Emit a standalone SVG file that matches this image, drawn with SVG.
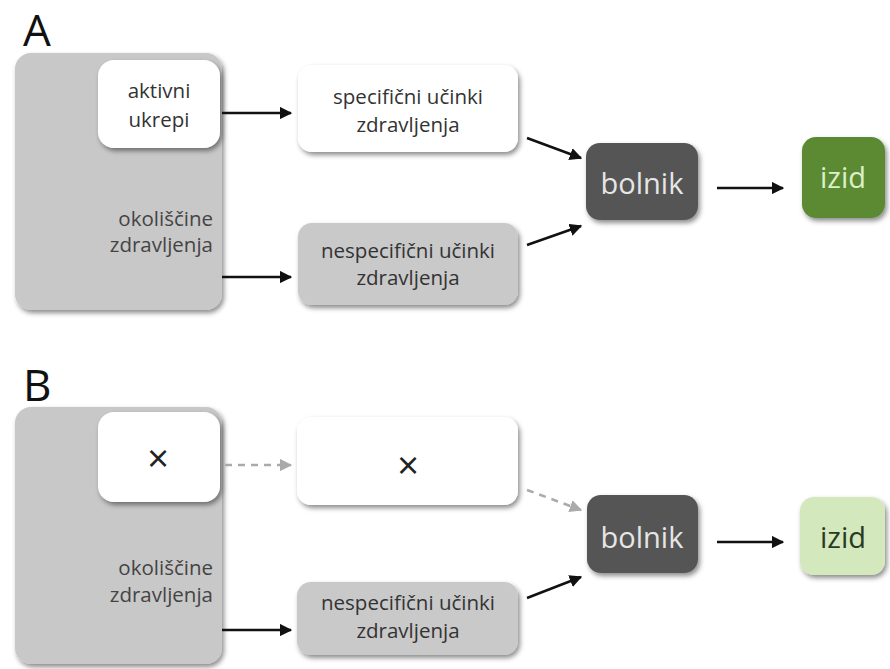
<svg xmlns="http://www.w3.org/2000/svg" width="890" height="669" viewBox="0 0 890 669">
<defs>
<filter id="sh" x="-20%" y="-20%" width="140%" height="150%">
<feDropShadow dx="2" dy="3" stdDeviation="2.5" flood-color="#000" flood-opacity="0.45"/>
</filter>
<marker id="ah" viewBox="0 0 10 10" refX="9" refY="5" markerWidth="5" markerHeight="5" orient="auto" markerUnits="strokeWidth">
<path d="M0,0 L10,5 L0,10 Z" fill="#111"/>
</marker>
<marker id="ahg" viewBox="0 0 10 10" refX="9" refY="5" markerWidth="5" markerHeight="5" orient="auto" markerUnits="strokeWidth">
<path d="M0,0 L10,5 L0,10 Z" fill="#aaa"/>
</marker>
<style>
text{font-family:"Open Sans","DejaVu Sans",sans-serif}
.env{fill:#c8c8c8;filter:url(#sh)}
.wb{fill:#fff;filter:url(#sh)}
.gb{fill:#c9c9c9;filter:url(#sh)}
.db{fill:#555;filter:url(#sh)}
.t{font-size:20.5px;fill:#333;text-anchor:middle}
.tr{font-size:20.5px;fill:#444;text-anchor:end}
.big{font-size:29px;text-anchor:middle}
.x{font-size:38px;fill:#222;text-anchor:middle}
.lab{font-size:44px;fill:#111}
.c{stroke:#111;stroke-width:2.5;fill:none;marker-end:url(#ah)}
.d{stroke:#aaa;stroke-width:2.5;fill:none;stroke-dasharray:7 6;marker-end:url(#ahg)}
</style>
</defs>

<text class="lab" x="23" y="46">A</text>
<text class="lab" x="23" y="401">B</text>

<g id="envA">
<rect class="env" x="15" y="53" width="207" height="257" rx="16"/>
<text class="tr" x="213" y="226">okoliščine</text>
<text class="tr" x="213" y="252">zdravljenja</text>
</g>
<g id="activeA">
<rect class="wb" x="98" y="60" width="122" height="88" rx="16"/>
<text class="t" x="159" y="98">aktivni</text>
<text class="t" x="159" y="127">ukrepi</text>
</g>
<g id="specA">
<rect class="wb" x="298" y="65" width="220" height="87" rx="14"/>
<text class="t" x="408" y="104">specifični učinki</text>
<text class="t" x="408" y="132">zdravljenja</text>
</g>
<g id="nonspecA">
<rect class="gb" x="298" y="223" width="220" height="82" rx="14"/>
<text class="t" x="408" y="258">nespecifični učinki</text>
<text class="t" x="408" y="285">zdravljenja</text>
</g>
<g id="bolnikA">
<rect class="db" x="586" y="143" width="112" height="77" rx="14"/>
<text class="big" x="642" y="194" fill="#e6e6e6">bolnik</text>
</g>
<g id="izidA">
<rect x="802" y="137" width="83" height="81" rx="14" fill="#5b8a32" filter="url(#sh)"/>
<text class="big" x="843" y="188" fill="#dcefc8">izid</text>
</g>

<g id="envB">
<rect class="env" x="15" y="407" width="207" height="257" rx="16"/>
<text class="tr" x="213" y="575">okoliščine</text>
<text class="tr" x="213" y="602">zdravljenja</text>
</g>
<g id="activeB">
<rect class="wb" x="98" y="412" width="122" height="90" rx="16"/>
<text class="x" x="158" y="472">×</text>
</g>
<g id="specB">
<rect class="wb" x="297" y="417" width="221" height="88" rx="14"/>
<text class="x" x="408" y="479">×</text>
</g>
<g id="nonspecB">
<rect class="gb" x="297" y="582" width="221" height="73" rx="14"/>
<text class="t" x="408" y="610">nespecifični učinki</text>
<text class="t" x="408" y="638">zdravljenja</text>
</g>
<g id="bolnikB">
<rect class="db" x="587" y="495" width="111" height="78" rx="14"/>
<text class="big" x="642" y="548" fill="#e6e6e6">bolnik</text>
</g>
<g id="izidB">
<rect x="800" y="497" width="85" height="78" rx="14" fill="#d3e8bd" filter="url(#sh)"/>
<text class="big" x="843" y="548" fill="#2a3a22">izid</text>
</g>

<g id="connectors">
<line class="c" x1="222" y1="113" x2="291" y2="113"/>
<line class="c" x1="222" y1="277" x2="291" y2="277"/>
<line class="c" x1="527" y1="138" x2="581" y2="158"/>
<line class="c" x1="527" y1="245" x2="581" y2="226"/>
<line class="c" x1="717" y1="188" x2="783" y2="188"/>
<line class="d" x1="225" y1="465" x2="291" y2="465"/>
<line class="c" x1="222" y1="630" x2="291" y2="630"/>
<line class="d" x1="527" y1="490" x2="581" y2="510"/>
<line class="c" x1="527" y1="598" x2="581" y2="577"/>
<line class="c" x1="717" y1="542" x2="783" y2="542"/>
</g>
</svg>
